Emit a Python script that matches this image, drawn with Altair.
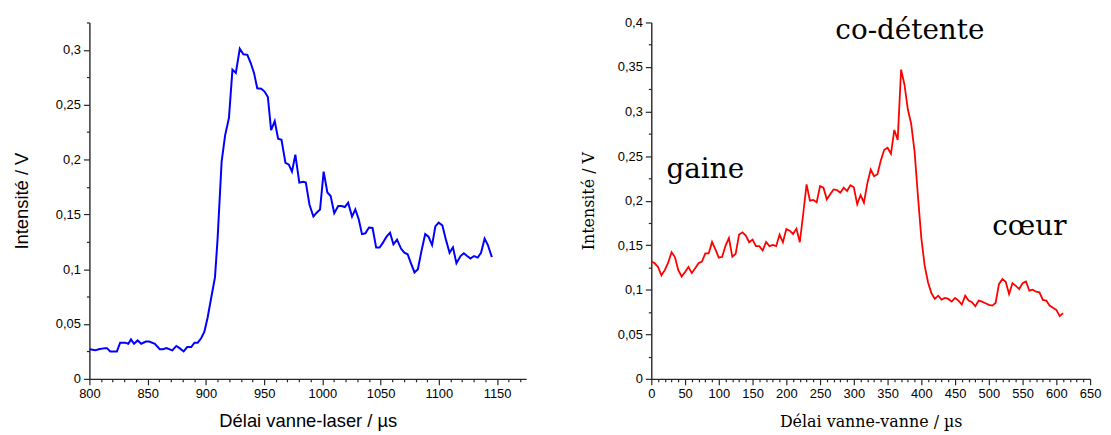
import altair as alt
import pandas as pd

# ---- left panel: Délai vanne-laser ----
left_t = [800.3, 805.1, 807.9, 813.6, 815.1, 817.9, 823.6, 826.4, 830.6, 833.4,
          835.7, 838.3, 841.4, 844.5, 848.5, 851.3, 856.2, 860.4, 863.2, 866.1,
          871.2, 874.6, 877.4, 880.9, 884.0, 887.4, 890.2, 893.0, 895.9, 898.7,
          901.5, 904.4, 907.8, 910.0, 913.5, 916.5, 919.8, 922.8, 925.7, 929.1,
          932.2, 935.6, 938.5, 941.3, 944.1, 947.5, 950.4, 953.2, 956.0, 959.1,
          962.0, 964.9, 968.3, 971.1, 973.9, 976.8, 980.2, 983.8, 985.8, 988.9,
          992.3, 995.1, 998.0, 1001.1, 1004.3, 1007.1, 1010.2, 1013.6, 1016.4, 1019.3,
          1022.1, 1025.5, 1028.3, 1031.2, 1034.0, 1036.9, 1040.0, 1043.1, 1046.2, 1049.1,
          1051.9, 1055.1, 1058.1, 1061.0, 1064.1, 1067.5, 1070.4, 1073.2, 1076.0, 1079.1,
          1082.0, 1085.1, 1088.3, 1091.1, 1094.2, 1097.0, 1099.8, 1103.0, 1105.8, 1109.2,
          1112.1, 1115.1, 1118.6, 1121.4, 1124.3, 1127.1, 1130.2, 1133.4, 1136.2, 1139.3,
          1142.1, 1145.5]
left_v = [0.027, 0.026, 0.027, 0.028, 0.028, 0.025, 0.025, 0.033, 0.033, 0.032,
          0.036, 0.032, 0.035, 0.032, 0.034, 0.034, 0.032, 0.027, 0.027, 0.028,
          0.026, 0.030, 0.028, 0.025, 0.029, 0.029, 0.033, 0.033, 0.037, 0.043,
          0.056, 0.073, 0.0925, 0.127, 0.198, 0.222, 0.238, 0.282, 0.279, 0.301,
          0.296, 0.2955, 0.288, 0.279, 0.265, 0.2645, 0.262, 0.257, 0.2267, 0.235,
          0.219, 0.218, 0.197, 0.1955, 0.189, 0.2045, 0.179, 0.1797, 0.179, 0.159,
          0.148, 0.1515, 0.1545, 0.189, 0.170, 0.1667, 0.151, 0.1576, 0.1576, 0.1567,
          0.1606, 0.148, 0.1545, 0.1455, 0.132, 0.1327, 0.138, 0.1376, 0.1197, 0.1197,
          0.124, 0.1297, 0.1333, 0.1227, 0.127, 0.1188, 0.115, 0.1136, 0.1055, 0.097,
          0.100, 0.1167, 0.132, 0.1297, 0.122, 0.139, 0.1424, 0.140, 0.128, 0.115,
          0.120, 0.1055, 0.112, 0.1145, 0.112, 0.1097, 0.112, 0.1106, 0.115, 0.128,
          0.122, 0.111]

# ---- right panel: Délai vanne-vanne ----
right_t = list(range(0, 615, 5))
right_v = [0.132, 0.1297, 0.1256, 0.1163, 0.122, 0.1304, 0.1422, 0.1367, 0.122, 0.1149,
           0.12, 0.1256, 0.1186, 0.124, 0.1297, 0.1315, 0.1408, 0.1408, 0.1537, 0.1452,
           0.136, 0.137, 0.1496, 0.158, 0.137, 0.1404, 0.1619, 0.1645, 0.1608, 0.1533,
           0.1563, 0.1489, 0.1489, 0.1441, 0.1537, 0.1489, 0.1504, 0.1489, 0.1619, 0.1533,
           0.1682, 0.1663, 0.1626, 0.1686, 0.1533, 0.185, 0.2182, 0.2, 0.2008, 0.1982,
           0.2163, 0.2145, 0.2015, 0.2071, 0.2126, 0.2119, 0.2089, 0.2145, 0.2108, 0.2174,
           0.2149, 0.196, 0.2063, 0.1978, 0.2193, 0.2349, 0.2274, 0.2297, 0.2452, 0.2571,
           0.2593, 0.2527, 0.2793, 0.2682, 0.3471, 0.3304, 0.3025, 0.286, 0.255, 0.205,
           0.158, 0.1267, 0.1082, 0.096, 0.0897, 0.0933, 0.0889, 0.0908, 0.0897, 0.0867,
           0.0908, 0.0878, 0.0834, 0.0933, 0.0878, 0.086, 0.0815, 0.0878, 0.0867, 0.0849,
           0.083, 0.0822, 0.0852, 0.1063, 0.1119, 0.1089, 0.0952, 0.1074, 0.1044, 0.1008,
           0.1074, 0.1093, 0.0989, 0.1, 0.0978, 0.0971, 0.0886, 0.0878, 0.0822, 0.0797,
           0.0774, 0.0704, 0.0738]

note_text = ["gaine", "co-détente", "cœur"]
note_t = [80, 383, 560]
note_v = [0.234, 0.39, 0.17]

left_x_ticks = list(range(800, 1180, 10))
left_y_ticks = [round(i * 0.025, 3) for i in range(14)]
right_x_ticks = list(range(0, 660, 10))
right_y_ticks = [round(i * 0.025, 3) for i in range(17)]

SANS = "Liberation Sans"
SERIF = "DejaVu Serif"
AX = "#262626"

X_TEST = "datum.value % 50 === 0"
Y_TEST = "round(datum.value * 1000) % 50 === 0"
X_LABEL = "datum.value % 50 === 0 ? format(datum.value, 'd') : ''"
Y_LABEL = "round(datum.value * 1000) % 50 === 0 ? replace(format(datum.value, '~g'), '.', ',') : ''"


def make_axis(values, test, label_expr, title, title_font, title_size, **extra):
    return alt.Axis(
        values=values, labelExpr=label_expr, title=title,
        titleFont=title_font, titleFontSize=title_size, titleFontWeight="normal",
        titleColor="#000", labelFont=SANS, labelFontSize=13, labelColor="#000",
        domainColor=AX, domainWidth=1.4, tickColor=AX, tickWidth=1.2,
        tickSize={"condition": {"test": test, "value": 6}, "value": 3},
        grid=False, labelPadding=3, labelOverlap=False, labelFlush=False,
        titleBaseline="alphabetic", **extra)


left_df = pd.DataFrame({"t": left_t, "v": left_v})
right_df = pd.DataFrame({"t": right_t, "v": right_v})
note_df = pd.DataFrame({"t": note_t, "v": note_v, "label": note_text})

lx_axis = make_axis(left_x_ticks, X_TEST, X_LABEL, "Délai vanne-laser / µs", SANS, 18.5, titleY=48)
ly_axis = make_axis(left_y_ticks, Y_TEST, Y_LABEL, "Intensité / V", SANS, 18.5, titleX=-62)
rx_axis = make_axis(right_x_ticks, X_TEST, X_LABEL, "Délai vanne-vanne / µs", SERIF, 16, titleY=48)
ry_axis = make_axis(right_y_ticks, Y_TEST, Y_LABEL, "Intensité / V", SERIF, 16, titleX=-58)

left = alt.Chart(left_df).mark_line(color="#0000ff", strokeWidth=2).encode(
    x=alt.X("t:Q", scale=alt.Scale(domain=[800, 1175], nice=False, zero=False), axis=lx_axis),
    y=alt.Y("v:Q", scale=alt.Scale(domain=[0, 0.325], nice=False), axis=ly_axis),
).properties(width=440, height=359)

rx = alt.X("t:Q", scale=alt.Scale(domain=[0, 650], nice=False), axis=rx_axis)
ry = alt.Y("v:Q", scale=alt.Scale(domain=[0, 0.4], nice=False), axis=ry_axis)

right_line = alt.Chart(right_df).mark_line(color="#ff0000", strokeWidth=1.8).encode(x=rx, y=ry)
right_text = alt.Chart(note_df).mark_text(
    font=SERIF, fontSize=28, color="#000", align="center", baseline="middle"
).encode(x=rx, y=ry, text="label:N")

right = alt.layer(right_line, right_text).properties(width=442, height=359)

chart = alt.hconcat(left, right, spacing=126, bounds="flush").properties(
    padding={"left": 5, "top": 7, "right": 2, "bottom": 2},
    background="white",
).configure_view(stroke=None)

chart.save("out.html", embed_options={"renderer": "svg", "actions": False})
